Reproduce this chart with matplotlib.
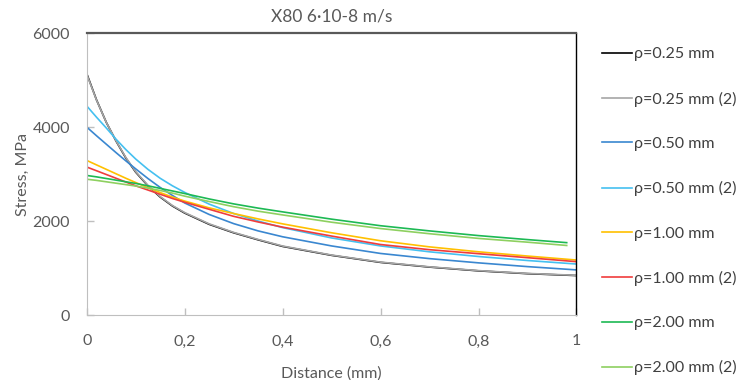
import numpy as np
import matplotlib
matplotlib.use('Agg')
import matplotlib.pyplot as plt

plt.rcParams['font.family'] = ['Lato', 'DejaVu Sans']

# distance (mm)
x = [0, 0.02, 0.04, 0.06, 0.08, 0.1, 0.125, 0.15, 0.175, 0.2,
     0.25, 0.3, 0.35, 0.4, 0.5, 0.6, 0.7, 0.8, 0.9, 1.0]
x_green = [0, 0.02, 0.04, 0.06, 0.08, 0.1, 0.125, 0.15, 0.175, 0.2,
           0.25, 0.3, 0.35, 0.4, 0.5, 0.6, 0.7, 0.8, 0.9, 0.98]

# stress (MPa)
s_025 = [5140, 4580, 4100, 3700, 3340, 3040, 2750, 2510, 2320, 2170,
         1930, 1750, 1600, 1460, 1270, 1120, 1020, 940, 880, 840]
s_025b = [5125, 4575, 4100, 3705, 3350, 3050, 2760, 2520, 2330, 2180,
          1940, 1758, 1608, 1468, 1276, 1126, 1025, 945, 885, 845]
s_050 = [4000, 3815, 3635, 3455, 3280, 3110, 2905, 2715, 2545, 2385,
         2140, 1945, 1790, 1665, 1470, 1310, 1200, 1110, 1030, 960]
s_050b = [4450, 4210, 3980, 3740, 3520, 3320, 3100, 2910, 2750, 2610,
          2360, 2160, 2000, 1860, 1640, 1470, 1345, 1245, 1160, 1085]
s_100 = [3290, 3195, 3100, 3005, 2910, 2820, 2710, 2605, 2510, 2425,
         2280, 2160, 2045, 1940, 1750, 1580, 1450, 1345, 1255, 1170]
s_100b = [3150, 3070, 2990, 2910, 2830, 2750, 2660, 2570, 2480, 2400,
          2250, 2100, 1980, 1870, 1680, 1500, 1390, 1305, 1220, 1135]
s_200 = [2970, 2940, 2905, 2870, 2835, 2800, 2750, 2695, 2640, 2585,
         2470, 2365, 2275, 2195, 2040, 1900, 1790, 1690, 1605, 1540]
s_200b = [2890, 2865, 2835, 2805, 2775, 2745, 2700, 2650, 2595, 2530,
          2415, 2305, 2210, 2130, 1975, 1840, 1730, 1630, 1550, 1480]

labels = ['ρ=0.25 mm', 'ρ=0.25 mm (2)', 'ρ=0.50 mm', 'ρ=0.50 mm (2)',
          'ρ=1.00 mm', 'ρ=1.00 mm (2)', 'ρ=2.00 mm', 'ρ=2.00 mm (2)']
colors = ['#000000', '#A5A5A5', '#3A87D0', '#45C0F0',
          '#FFC000', '#F03C3C', '#1DB954', '#8ED060']

x_ticks = [0, 0.2, 0.4, 0.6, 0.8, 1]
x_ticklabels = ['0', '0,2', '0,4', '0,6', '0,8', '1']
y_ticks = [0, 2000, 4000, 6000]

fig = plt.figure(figsize=(7.41, 3.80), dpi=100)
ax = fig.add_axes([0.117, 0.171, 0.661, 0.742])

series = [(x, s_025), (x, s_025b), (x, s_050), (x, s_050b),
          (x, s_100), (x, s_100b), (x_green, s_200), (x_green, s_200b)]
for (xs, ys), lab, c in zip(series, labels, colors):
    ax.plot(xs, ys, color=c, lw=1.2, label=lab)

ax.set_xlim(0, 1)
ax.set_ylim(0, 6000)
ax.set_xticks(x_ticks)
ax.set_xticklabels(x_ticklabels)
ax.set_yticks(y_ticks)
ax.tick_params(direction='in', length=5, width=1, color='#BFBFBF',
               labelcolor='#595959', labelsize=11.5)
ax.tick_params(axis='x', pad=14)
ax.tick_params(axis='y', pad=12)

for side in ['left', 'bottom']:
    ax.spines[side].set_color('#BFBFBF')
ax.spines['top'].set_color('#595959')
ax.spines['top'].set_linewidth(1.6)
ax.spines['right'].set_color('#000000')
ax.spines['right'].set_linewidth(1.0)

ax.set_title('X80 6·10-8 m/s', fontsize=12.5, color='#595959', pad=8)
ax.set_xlabel('Distance (mm)', fontsize=11.5, color='#595959', labelpad=13)
ax.set_ylabel('Stress, MPa', fontsize=11.5, color='#595959', labelpad=2)

leg = ax.legend(loc='upper left', bbox_to_anchor=(602 / 741, 0.876),
                bbox_transform=fig.transFigure, frameon=False,
                fontsize=11.5, handlelength=1.9, handletextpad=0.1,
                labelspacing=1.89, borderaxespad=0, borderpad=0)
for t in leg.get_texts():
    t.set_color('#404040')

fig.savefig('out.png', dpi=100)
